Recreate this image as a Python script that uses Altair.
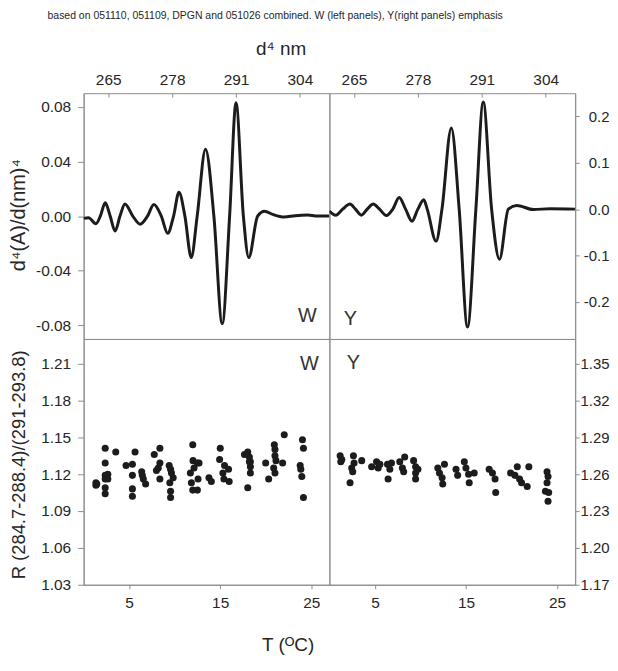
import altair as alt
import pandas as pd

CAPTION = "based on 051110, 051109, DPGN and 051026 combined. W (left panels), Y(right panels) emphasis"

# ---- fourth-derivative spectra (nm, value) ----
wl_w = [260.0, 261.0, 262.5, 263.4, 264.4, 265.4, 266.4, 267.4, 268.4, 270.0, 271.5, 273.0,
        274.3, 275.8, 277.1, 278.3, 279.4, 280.6, 281.9, 283.1, 284.8, 286.5, 288.2, 289.7,
        291.0, 292.5, 293.6, 295.4, 296.8, 298.5, 300.8, 303.0, 305.6, 307.5, 310.0]
d4_w = [-0.0017, -0.0012, -0.0056, 0.0, 0.0097, 0.0, -0.011, 0.0, 0.0089, 0.0, -0.006, 0.0,
        0.0085, 0.0, -0.0126, 0.0, 0.0174, 0.0, -0.0303, 0.0, 0.049, 0.0, -0.0788, 0.0,
        0.083, 0.0, -0.0303, 0.0, 0.0036, 0.0012, -0.0007, 0.0003, 0.0008, 0.0, 0.0]

wl_y = [260.0, 261.3, 262.7, 264.2, 265.3, 266.5, 267.7, 268.9, 270.2, 271.6, 272.9, 274.2,
        275.5, 276.8, 278.0, 279.2, 279.9, 281.7, 282.9, 284.8, 286.4, 288.1, 289.8, 291.3,
        293.0, 294.6, 296.4, 298.1, 301.5, 304.9, 310.0]
d4_y = [-0.004, -0.013, 0.0, 0.011, 0.0, -0.013, 0.0, 0.011, 0.0, -0.014, 0.0, 0.025,
        0.0, -0.026, 0.0, 0.020, 0.0, -0.069, 0.0, 0.175, 0.0, -0.254, 0.0, 0.231,
        0.0, -0.108, 0.0, 0.008, -0.001, 0.001, 0.0]

# ---- ratio R vs temperature ----
T_w = [1.35, 1.35, 1.45, 2.37, 2.37, 2.37, 2.37, 2.37, 2.37, 2.66, 2.66, 3.53, 4.66,
       5.36, 5.36, 5.36, 5.36, 5.65, 6.38, 6.45, 6.56, 6.81, 7.76, 8.0, 8.38, 8.38, 8.2, 8.38,
       9.4, 9.55, 9.65, 9.84, 9.47, 9.55, 9.55, 11.99, 11.73, 11.84, 11.99, 12.02, 12.13,
       12.5, 12.57, 12.68, 12.5, 13.77, 14.03, 15.01, 14.94, 15.3, 15.41, 15.48, 15.92, 15.99,
       17.67, 18.03, 18.21, 18.21, 18.32, 18.32, 18.03, 18.32, 20.0, 20.33,
       20.95, 21.02, 21.02, 21.13, 21.02, 20.88, 21.86, 22.04,
       24.04, 24.15, 23.79, 23.86, 23.97, 24.15]
R_w = [1.113, 1.111, 1.112, 1.141, 1.129, 1.119, 1.116, 1.109, 1.104, 1.120, 1.116, 1.138, 1.127,
       1.128, 1.119, 1.108, 1.102, 1.138, 1.122, 1.119, 1.116, 1.112, 1.136, 1.123, 1.141, 1.129, 1.125, 1.116,
       1.127, 1.124, 1.121, 1.117, 1.113, 1.106, 1.101, 1.144, 1.121, 1.113, 1.107, 1.131, 1.125,
       1.107, 1.116, 1.129, 1.129, 1.117, 1.114, 1.141, 1.132, 1.121, 1.116, 1.127, 1.124, 1.114,
       1.136, 1.138, 1.134, 1.130, 1.126, 1.121, 1.109, 1.130, 1.129, 1.116,
       1.144, 1.140, 1.135, 1.131, 1.121, 1.125, 1.129, 1.152,
       1.148, 1.141, 1.127, 1.124, 1.118, 1.101]

T_y = [1.18, 1.25, 1.36, 2.27, 2.45, 2.56, 2.64, 2.71, 3.55, 4.64, 5.18, 5.36, 5.55,
       6.38, 6.45, 6.64, 6.82, 7.73, 8.02, 8.27, 8.16, 9.25, 9.47, 9.47, 9.47, 9.73,
       11.91, 12.09, 12.38, 12.45, 12.64, 13.91, 14.09, 14.82, 15.0, 15.29, 15.36, 15.91,
       17.55, 17.91, 18.2, 18.27, 19.91, 20.38, 20.64, 20.89, 21.11, 21.73, 21.91,
       23.91, 24.02, 23.91, 23.73, 24.09, 24.02]
R_y = [1.275, 1.270, 1.272, 1.253, 1.265, 1.262, 1.275, 1.269, 1.271, 1.266, 1.270, 1.265, 1.268,
       1.268, 1.256, 1.264, 1.269, 1.270, 1.265, 1.274, 1.262, 1.271, 1.266, 1.261, 1.256, 1.264,
       1.265, 1.261, 1.257, 1.252, 1.268, 1.264, 1.259, 1.270, 1.265, 1.260, 1.253, 1.261,
       1.264, 1.261, 1.256, 1.245, 1.261, 1.259, 1.266, 1.256, 1.253, 1.250, 1.266,
       1.262, 1.258, 1.253, 1.246, 1.245, 1.238]

nm_ticks = [265, 278, 291, 304]
T_ticks = [5, 15, 25]
d4w_ticks = [-0.08, -0.04, 0.0, 0.04, 0.08]
d4y_ticks = [-0.2, -0.1, 0.0, 0.1, 0.2]
Rw_ticks = [1.03, 1.06, 1.09, 1.12, 1.15, 1.18, 1.21]
Ry_ticks = [1.17, 1.20, 1.23, 1.26, 1.29, 1.32, 1.35]

PW, PH = 247, 247
FONT = "Liberation Sans"
AX = "#8c8c8c"
INK = "#1c1c1c"
LBL = "#262626"
FIX = "replace(datum.label, '\u2212', '-')"
LFS = 15.5


def tag(txt, px, py):
    return alt.Chart(pd.DataFrame({"t": [txt]})).mark_text(
        font=FONT, fontSize=20, color="#333333", align="center", baseline="middle"
    ).encode(x=alt.value(px), y=alt.value(py), text="t:N")


def nm_axis(**kw):
    return alt.Axis(orient="top", values=nm_ticks, tickSize=4, offset=-4, domain=False,
                    labelPadding=6, labelFontSize=LFS, labelColor=LBL, tickColor=AX,
                    grid=False, titleFontWeight="normal", titleColor=LBL,
                    titleBaseline="middle", titleAlign="center", titleAngle=0, **kw)


def T_axis(**kw):
    return alt.Axis(orient="bottom", values=T_ticks, tickSize=4, labelPadding=7,
                    labelFontSize=LFS, labelColor=LBL, tickColor=AX, domainColor=AX,
                    grid=False, titleFontWeight="normal", titleColor=LBL,
                    titleBaseline="middle", titleAlign="center", titleAngle=0, **kw)


def left_axis(vals, fmt, **kw):
    return alt.Axis(orient="left", values=vals, format=fmt, labelExpr=FIX, tickSize=6,
                    labelPadding=7, labelFontSize=LFS, labelColor=LBL, tickColor=AX,
                    domainColor=AX, grid=False, titleFontWeight="normal", titleColor=LBL,
                    titleBaseline="middle", titleAlign="center", **kw)


def right_axis(vals, fmt, pad):
    return alt.Axis(orient="right", values=vals, format=fmt, labelExpr=FIX, tickSize=4,
                    labelPadding=pad, labelAlign="right", labelFontSize=15, labelColor=LBL,
                    tickColor=AX, domainColor=AX, grid=False, title=None)


df_w = pd.DataFrame({"nm": wl_w, "v": d4_w})
df_y = pd.DataFrame({"nm": wl_y, "v": d4_y})
sc_w = pd.DataFrame({"T": T_w, "R": R_w})
sc_y = pd.DataFrame({"T": T_y, "R": R_y})

nm_scale = alt.Scale(domain=[260, 310], nice=False, zero=False)
T_scale = alt.Scale(domain=[0, 27], nice=False, zero=False)

topL_line = alt.Chart(df_w).mark_line(color=INK, strokeWidth=3, interpolate="monotone", clip=True).encode(
    x=alt.X("nm:Q", scale=nm_scale,
            axis=nm_axis(title="d\u2074 nm", titleX=198, titleY=-49, titleFontSize=19)),
    y=alt.Y("v:Q", scale=alt.Scale(domain=[-0.09, 0.09], nice=False, zero=False),
            axis=left_axis(d4w_ticks, ".2f", title="d\u2074(A)/d(nm)\u2074",
                           titleX=-65, titleY=122, titleFontSize=20)),
)
topL = alt.layer(topL_line, tag("W", 225, 224)).properties(width=PW, height=PH)

topR_line = alt.Chart(df_y).mark_line(color=INK, strokeWidth=3, interpolate="monotone", clip=True).encode(
    x=alt.X("nm:Q", scale=nm_scale,
            axis=nm_axis(title=CAPTION, titleX=-55, titleY=-82, titleFontSize=10.5)),
    y=alt.Y("v:Q", scale=alt.Scale(domain=[-0.28, 0.25], nice=False, zero=False),
            axis=right_axis(d4y_ticks, ".1f", 30)),
)
topR = alt.layer(topR_line, tag("Y", 21, 227)).properties(width=PW, height=PH)

botL_pts = alt.Chart(sc_w).mark_circle(size=50, color=INK, opacity=1).encode(
    x=alt.X("T:Q", scale=T_scale,
            axis=T_axis(title="T (\u1d3cC)", titleX=205, titleY=60, titleFontSize=19)),
    y=alt.Y("R:Q", scale=alt.Scale(domain=[1.03, 1.23], nice=False, zero=False),
            axis=left_axis(Rw_ticks, ".2f", title="R (284.7-288.4)/(291-293.8)",
                           titleX=-65, titleY=126, titleFontSize=18.5)),
)
botL = alt.layer(botL_pts, tag("W", 227, 25)).properties(width=PW, height=PH)

botR_pts = alt.Chart(sc_y).mark_circle(size=50, color=INK, opacity=1).encode(
    x=alt.X("T:Q", scale=T_scale, axis=T_axis(title=None)),
    y=alt.Y("R:Q", scale=alt.Scale(domain=[1.17, 1.37], nice=False, zero=False),
            axis=right_axis(Ry_ticks, ".2f", 30)),
)
botR = alt.layer(botR_pts, tag("Y", 24, 24)).properties(width=PW, height=PH)

chart = alt.concat(topL, topR, botL, botR, columns=2, spacing=0, bounds="flush").properties(
    padding={"left": 0, "top": 0, "right": 0, "bottom": 0}
).configure_view(stroke=AX, strokeWidth=1).configure_axis(
    labelFont=FONT, titleFont=FONT
)

chart.save("out.html", embed_options={"renderer": "svg", "actions": False})
